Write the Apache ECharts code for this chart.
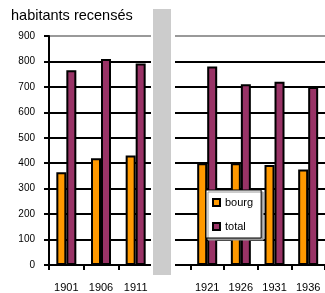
<!DOCTYPE html>
<html>
<head>
<meta charset="utf-8">
<script src="https://cdn.jsdelivr.net/npm/echarts@6/dist/echarts.min.js"></script>
<style>
  html, body { margin: 0; padding: 0; background: #fff; }
  #chart { width: 325px; height: 293px; }
</style>
</head>
<body>
<div id="chart"></div>
<script>
// valeurs
const yearsLeft = ['1901', '1906', '1911'];
const bourgLeft = [365, 420, 430];
const totalLeft = [765, 810, 792];

const yearsRight = ['1921', '1926', '1931', '1936'];
const bourgRight = [400, 400, 393, 375];
const totalRight = [780, 710, 720, 700];

const yMin = 0, yMax = 900, yStep = 100;
const seriesNames = ['bourg', 'total'];
const seriesColors = ['#FF9900', '#993366'];

const font = 'Liberation Sans, Arial, sans-serif';
// lignes de quadrillage noires, la dernière (900) grise
const gridColors = [];
for (let v = yMin; v <= yMax; v += yStep) gridColors.push(v === yMax ? '#999' : '#000');

function yAxis(idx, show) {
  return {
    type: 'value', gridIndex: idx, min: yMin, max: yMax, interval: yStep,
    axisLine: { show: show, lineStyle: { color: '#000', width: 2 } },
    axisTick: { show: show, length: 5, lineStyle: { color: '#000', width: 2 } },
    axisLabel: { show: show, margin: 14, color: '#000', fontSize: 10, fontFamily: font },
    splitLine: { show: true, lineStyle: { color: gridColors, width: 2 } }
  };
}

function xAxis(idx, data) {
  return {
    type: 'category', gridIndex: idx, data: data,
    axisLine: { lineStyle: { color: '#000', width: 2 } },
    axisTick: { show: true, length: 5, lineStyle: { color: '#000', width: 2 } },
    axisLabel: { margin: 17, color: '#000', fontSize: 11, fontFamily: font }
  };
}

function bars(name, data, color, idx) {
  return {
    name: name, type: 'bar', xAxisIndex: idx, yAxisIndex: idx,
    data: data, barWidth: 10, barGap: '0%',
    itemStyle: { color: color, borderColor: '#000', borderWidth: 2 }
  };
}

// panneau droit : une catégorie vide devant, masquée par la bande grise
const rightCats = [''].concat(yearsRight);
const pad = v => [null].concat(v);

const chart = echarts.init(document.getElementById('chart'), null, { renderer: 'canvas' });
chart.setOption({
  backgroundColor: '#fff',
  animation: false,
  title: {
    text: 'habitants recensés', left: 11, top: 8, padding: 0,
    textStyle: { fontSize: 14.5, fontWeight: 'normal', color: '#000', fontFamily: font }
  },
  legend: {
    data: seriesNames, orient: 'vertical', left: 206, top: 190,
    icon: 'rect', itemWidth: 7, itemHeight: 7, itemGap: 13, itemTextGap: 6,
    padding: [7, 8, 6, 6],
    backgroundColor: '#fff', borderColor: '#000', borderWidth: 1,
    shadowColor: '#999', shadowOffsetX: 2, shadowOffsetY: 2, shadowBlur: 0,
    textStyle: { fontSize: 11, color: '#000', fontFamily: font }
  },
  grid: [
    { left: 49, top: 36, width: 104, height: 229 },
    { left: 156.7, top: 36, width: 171.7, height: 229 }
  ],
  xAxis: [xAxis(0, yearsLeft), xAxis(1, rightCats)],
  yAxis: [yAxis(0, true), yAxis(1, false)],
  series: [
    bars(seriesNames[0], bourgLeft, seriesColors[0], 0),
    bars(seriesNames[1], totalLeft, seriesColors[1], 0),
    bars(seriesNames[0], pad(bourgRight), seriesColors[0], 1),
    bars(seriesNames[1], pad(totalRight), seriesColors[1], 1)
  ],
  graphic: [
    { type: 'rect', z: 10, shape: { x: 151, y: 0, width: 24, height: 293 }, style: { fill: '#fff' } },
    { type: 'rect', z: 11, shape: { x: 153, y: 9, width: 18, height: 266 }, style: { fill: '#cccccc' } }
  ]
});
</script>
</body>
</html>
